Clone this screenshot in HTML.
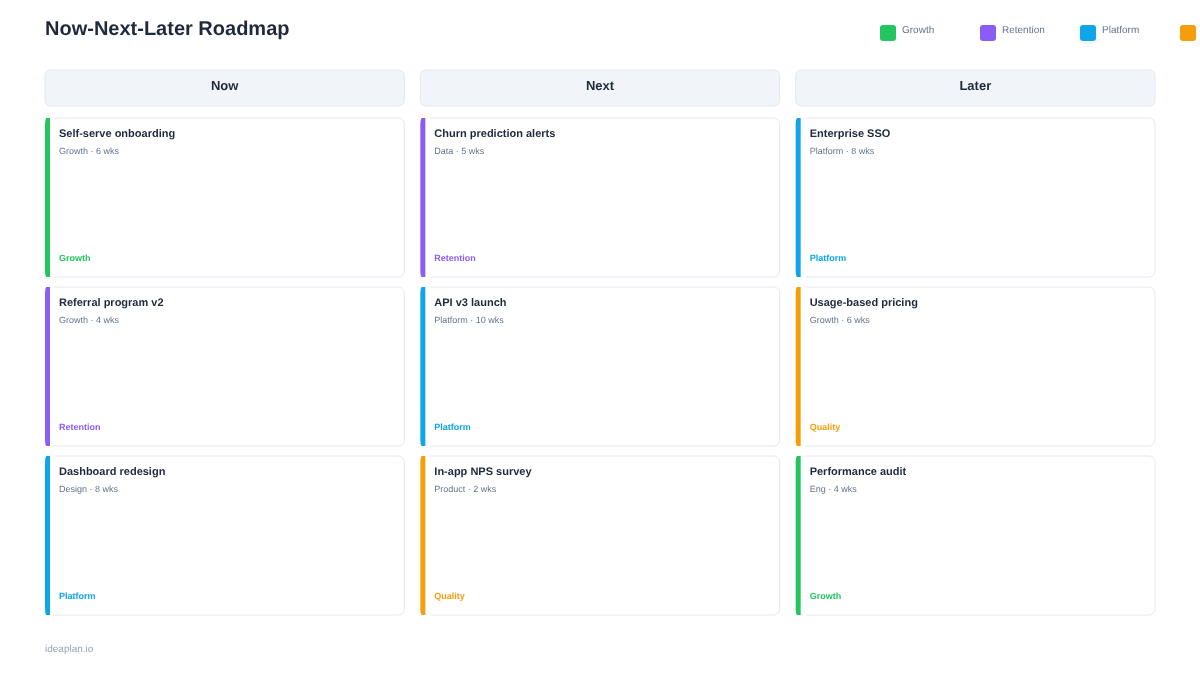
<!DOCTYPE html>
<html><head><meta charset="utf-8"><title>Now-Next-Later Roadmap</title>
<style>
html,body{margin:0;padding:0;background:#ffffff;}
body{width:1200px;height:675px;overflow:hidden;}
svg{display:block;will-change:transform;font-family:"Liberation Sans",sans-serif;text-rendering:geometricPrecision;}
</style></head><body>
<svg width="1200" height="675" viewBox="0 0 1200 675">
<text x="45" y="35" font-size="20" font-weight="700" fill="#1e293b">Now-Next-Later Roadmap</text>
<rect x="880" y="25" width="16" height="16" rx="3" fill="#22c55e"/>
<text x="902" y="33" font-size="10" fill="#64748b">Growth</text>
<rect x="980" y="25" width="16" height="16" rx="3" fill="#8b5cf6"/>
<text x="1002" y="33" font-size="10" fill="#64748b">Retention</text>
<rect x="1080" y="25" width="16" height="16" rx="3" fill="#0ea5e9"/>
<text x="1102" y="33" font-size="10" fill="#64748b">Platform</text>
<rect x="1180" y="25" width="16" height="16" rx="3" fill="#f59e0b"/>
<text x="1202" y="33" font-size="10" fill="#64748b">Quality</text>
<rect x="45" y="70" width="359.33" height="36" rx="5.5" fill="#f1f5f9" stroke="#e2e8f0"/>
<text x="224.67" y="90" font-size="13" font-weight="700" fill="#1e293b" text-anchor="middle">Now</text>
<path d="M55 118H398.33A6 6 0 0 1 404.33 124V271A6 6 0 0 1 398.33 277H55" fill="none" stroke="#e2e8f0"/>
<path d="M50 118H55M50 277H55" fill="none" stroke="#e2e8f0" stroke-opacity="0.45"/>
<path d="M46.2 118H50V277H46.2Q45 275.5 45 271V124Q45 119.5 46.2 118Z" fill="#22c55e"/>
<text x="59" y="137" font-size="11" font-weight="700" fill="#1e293b">Self-serve onboarding</text>
<text x="59" y="154" font-size="9" fill="#64748b">Growth · 6 wks</text>
<text x="59" y="261" font-size="9" font-weight="700" fill="#22c55e">Growth</text>
<path d="M55 287H398.33A6 6 0 0 1 404.33 293V440A6 6 0 0 1 398.33 446H55" fill="none" stroke="#e2e8f0"/>
<path d="M50 287H55M50 446H55" fill="none" stroke="#e2e8f0" stroke-opacity="0.45"/>
<path d="M46.2 287H50V446H46.2Q45 444.5 45 440V293Q45 288.5 46.2 287Z" fill="#8b5cf6"/>
<text x="59" y="306" font-size="11" font-weight="700" fill="#1e293b">Referral program v2</text>
<text x="59" y="323" font-size="9" fill="#64748b">Growth · 4 wks</text>
<text x="59" y="430" font-size="9" font-weight="700" fill="#8b5cf6">Retention</text>
<path d="M55 456H398.33A6 6 0 0 1 404.33 462V609A6 6 0 0 1 398.33 615H55" fill="none" stroke="#e2e8f0"/>
<path d="M50 456H55M50 615H55" fill="none" stroke="#e2e8f0" stroke-opacity="0.45"/>
<path d="M46.2 456H50V615H46.2Q45 613.5 45 609V462Q45 457.5 46.2 456Z" fill="#0ea5e9"/>
<text x="59" y="475" font-size="11" font-weight="700" fill="#1e293b">Dashboard redesign</text>
<text x="59" y="492" font-size="9" fill="#64748b">Design · 8 wks</text>
<text x="59" y="599" font-size="9" font-weight="700" fill="#0ea5e9">Platform</text>
<rect x="420.33" y="70" width="359.33" height="36" rx="5.5" fill="#f1f5f9" stroke="#e2e8f0"/>
<text x="600" y="90" font-size="13" font-weight="700" fill="#1e293b" text-anchor="middle">Next</text>
<path d="M430.33 118H773.67A6 6 0 0 1 779.67 124V271A6 6 0 0 1 773.67 277H430.33" fill="none" stroke="#e2e8f0"/>
<path d="M425.33 118H430.33M425.33 277H430.33" fill="none" stroke="#e2e8f0" stroke-opacity="0.45"/>
<path d="M421.53 118H425.33V277H421.53Q420.33 275.5 420.33 271V124Q420.33 119.5 421.53 118Z" fill="#8b5cf6"/>
<text x="434.33" y="137" font-size="11" font-weight="700" fill="#1e293b">Churn prediction alerts</text>
<text x="434.33" y="154" font-size="9" fill="#64748b">Data · 5 wks</text>
<text x="434.33" y="261" font-size="9" font-weight="700" fill="#8b5cf6">Retention</text>
<path d="M430.33 287H773.67A6 6 0 0 1 779.67 293V440A6 6 0 0 1 773.67 446H430.33" fill="none" stroke="#e2e8f0"/>
<path d="M425.33 287H430.33M425.33 446H430.33" fill="none" stroke="#e2e8f0" stroke-opacity="0.45"/>
<path d="M421.53 287H425.33V446H421.53Q420.33 444.5 420.33 440V293Q420.33 288.5 421.53 287Z" fill="#0ea5e9"/>
<text x="434.33" y="306" font-size="11" font-weight="700" fill="#1e293b">API v3 launch</text>
<text x="434.33" y="323" font-size="9" fill="#64748b">Platform · 10 wks</text>
<text x="434.33" y="430" font-size="9" font-weight="700" fill="#0ea5e9">Platform</text>
<path d="M430.33 456H773.67A6 6 0 0 1 779.67 462V609A6 6 0 0 1 773.67 615H430.33" fill="none" stroke="#e2e8f0"/>
<path d="M425.33 456H430.33M425.33 615H430.33" fill="none" stroke="#e2e8f0" stroke-opacity="0.45"/>
<path d="M421.53 456H425.33V615H421.53Q420.33 613.5 420.33 609V462Q420.33 457.5 421.53 456Z" fill="#f59e0b"/>
<text x="434.33" y="475" font-size="11" font-weight="700" fill="#1e293b">In-app NPS survey</text>
<text x="434.33" y="492" font-size="9" fill="#64748b">Product · 2 wks</text>
<text x="434.33" y="599" font-size="9" font-weight="700" fill="#f59e0b">Quality</text>
<rect x="795.67" y="70" width="359.33" height="36" rx="5.5" fill="#f1f5f9" stroke="#e2e8f0"/>
<text x="975.33" y="90" font-size="13" font-weight="700" fill="#1e293b" text-anchor="middle">Later</text>
<path d="M805.67 118H1149A6 6 0 0 1 1155 124V271A6 6 0 0 1 1149 277H805.67" fill="none" stroke="#e2e8f0"/>
<path d="M800.67 118H805.67M800.67 277H805.67" fill="none" stroke="#e2e8f0" stroke-opacity="0.45"/>
<path d="M796.87 118H800.67V277H796.87Q795.67 275.5 795.67 271V124Q795.67 119.5 796.87 118Z" fill="#0ea5e9"/>
<text x="809.67" y="137" font-size="11" font-weight="700" fill="#1e293b">Enterprise SSO</text>
<text x="809.67" y="154" font-size="9" fill="#64748b">Platform · 8 wks</text>
<text x="809.67" y="261" font-size="9" font-weight="700" fill="#0ea5e9">Platform</text>
<path d="M805.67 287H1149A6 6 0 0 1 1155 293V440A6 6 0 0 1 1149 446H805.67" fill="none" stroke="#e2e8f0"/>
<path d="M800.67 287H805.67M800.67 446H805.67" fill="none" stroke="#e2e8f0" stroke-opacity="0.45"/>
<path d="M796.87 287H800.67V446H796.87Q795.67 444.5 795.67 440V293Q795.67 288.5 796.87 287Z" fill="#f59e0b"/>
<text x="809.67" y="306" font-size="11" font-weight="700" fill="#1e293b">Usage-based pricing</text>
<text x="809.67" y="323" font-size="9" fill="#64748b">Growth · 6 wks</text>
<text x="809.67" y="430" font-size="9" font-weight="700" fill="#f59e0b">Quality</text>
<path d="M805.67 456H1149A6 6 0 0 1 1155 462V609A6 6 0 0 1 1149 615H805.67" fill="none" stroke="#e2e8f0"/>
<path d="M800.67 456H805.67M800.67 615H805.67" fill="none" stroke="#e2e8f0" stroke-opacity="0.45"/>
<path d="M796.87 456H800.67V615H796.87Q795.67 613.5 795.67 609V462Q795.67 457.5 796.87 456Z" fill="#22c55e"/>
<text x="809.67" y="475" font-size="11" font-weight="700" fill="#1e293b">Performance audit</text>
<text x="809.67" y="492" font-size="9" fill="#64748b">Eng · 4 wks</text>
<text x="809.67" y="599" font-size="9" font-weight="700" fill="#22c55e">Growth</text>
<text x="45" y="652" font-size="10" fill="#94a3b8">ideaplan.io</text>
</svg>
</body></html>
